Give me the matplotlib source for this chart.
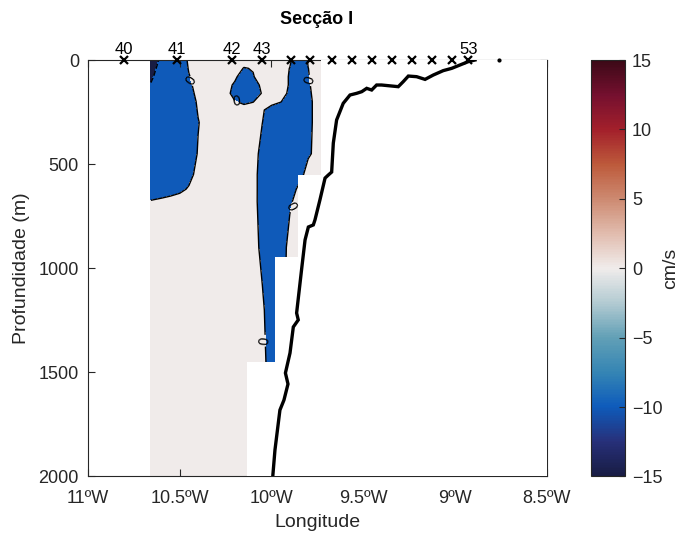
import numpy as np
import matplotlib
matplotlib.use("Agg")
import matplotlib.pyplot as plt
from matplotlib.colors import LinearSegmentedColormap, Normalize
from matplotlib.cm import ScalarMappable

plt.rcParams['font.family'] = ['Liberation Sans', 'DejaVu Sans']

# === Section data ===
TITLE = "Secção I"

# stations along the section (lon) and the ones that get a number
station_lon = [-10.804, -10.513, -10.217, -10.053, -9.895, -9.790, -9.672,
               -9.560, -9.454, -9.345, -9.233, -9.124, -9.018, -8.928]
station_num = list(range(40, 54))
labelled = [40, 41, 42, 43, 53]
extra_point_lon = -8.759

# velocity grid (cm/s): rows = depth, cols = lon
grid_lon = [-10.657, -10.60, -10.55, -10.50, -10.45, -10.40, -10.35, -10.30,
            -10.25, -10.20, -10.15, -10.10, -10.05, -10.00, -9.95, -9.90,
            -9.85, -9.80, -9.730]
grid_depth = [0, 40, 80, 120, 160, 200, 240, 300, 450, 550, 620, 680,
              900, 1200, 1500, 2000]
velocity = [
    [-13, -9, -6, -7.2, 1.8, 4, 4, 4, 4, 4, 4, 4, 4, 4, 4, 1.6, -8, 0.8, 4],
    [-12, -8, -6, -8.2, 0.8, 4, 4, 4, 4, 4, -0.5, 0.5, 4, 4, 4, -0.25, -8, -0.1, 4],
    [-11, -7, -6, -8, -0.6, 4, 4, 4, 4, 2.1, -6, -0.55, 4, 4, 4, -0.8, -8, -0.4, 4],
    [-9.6, -6, -6, -7, -2.2, 4, 4, 4, 4, -1.6, -7, -6, 3, 4, 4, -0.8, -8, -0.8, 4],
    [-7, -6, -6, -7, -5.3, 4, 4, 4, 4, -4, -7, -7, 0.9, 4, 4, -2, -8, -1.3, 4],
    [-6, -6, -6, -7, -7, 1.9, 4, 4, 4, 0.6, -2, -0.3, 4, 4, 0.4, -5, -8, -1.9, 4],
    [-5, -6, -6, -7, -7, 0.8, 4, 4, 4, 4, 4, 4, 1.4, -5, -6, -7, -8, -1.9, 4],
    [-5, -6, -6, -7, -7, -0.55, 4, 4, 4, 4, 4, 4, 0.1, -5, -6, -7, -8, -1.9, 4],
    [-5, -6, -6, -7, -7, 0.8, 4, 4, 4, 4, 4, 4, -3.1, -6, -6, -7, -8, -1.3, 4],
    [-5, -6, -6, -6, -4, 4, 4, 4, 4, 4, 4, 4, -4.9, -6, -6, -6, -4, 4, 4],
    [-5, -5, -5, -3, 1.3, 4, 4, 4, 4, 4, 4, 4, -4.9, -6, -6, -6, 2.5, 4, 4],
    [0.6, 1.9, 4, 6, 4, 4, 4, 4, 4, 4, 4, 4, -5, -6, -5, -1.5, 4, 4, 4],
    [4, 4, 4, 4, 4, 4, 4, 4, 4, 4, 4, 4, -2.5, -6, -6.5, 4, 4, 4, 4],
    [4, 4, 4, 4, 4, 4, 4, 4, 4, 4, 4, 4, 1.7, -6, -4, 4, 4, 4, 4],
    [4, 4, 4, 4, 4, 4, 4, 4, 4, 4, 4, 4, 3, -4, -4, 4, 4, 4, 4],
    [4, 4, 4, 4, 4, 4, 4, 4, 4, 4, 4, 4, 4, 4, 4, 4, 4, 4, 4],
]
levels = [-20, -10, 0, 10, 20]

# eastern limit of valid data per depth (step mask)
mask_depth = [0, 550, 550, 945, 945, 1450, 1450, 2000]
mask_lon = [-9.730, -9.730, -9.856, -9.856, -9.981, -9.981, -10.134, -10.134]

# bottom profile
bathy_lon = [-9.993, -9.981, -9.954, -9.932, -9.910, -9.924, -9.899, -9.881,
             -9.854, -9.863, -9.835, -9.817, -9.799, -9.772, -9.763, -9.736,
             -9.708, -9.690, -9.672, -9.663, -9.645, -9.627, -9.609, -9.572,
             -9.536, -9.508, -9.481, -9.454, -9.427, -9.400, -9.309, -9.282,
             -9.254, -9.209, -9.163, -9.118, -9.064, -9.018, -8.973, -8.928,
             -8.891]
bathy_depth = [2000, 1873, 1681, 1633, 1556, 1503, 1407, 1282, 1248, 1215,
               999, 864, 802, 792, 768, 672, 567, 552, 538, 399, 288, 248,
               208, 168, 160, 152, 136, 144, 120, 120, 128, 104, 77, 80, 93,
               72, 51, 40, 24, 8, 0]

# "0" contour labels
label_pos = [(-10.444, 110), (-10.188, 192), (-9.807, 110), (-9.888, 711),
             (-10.019, 1345)]

xticks = [-11, -10.5, -10, -9.5, -9, -8.5]
xticklabels = ["11ºW", "10.5ºW", "10ºW", "9.5ºW", "9ºW", "8.5ºW"]
yticks = [0, 500, 1000, 1500, 2000]
cbar_ticks = [-15, -10, -5, 0, 5, 10, 15]

# balance-like colormap
cmap_pos = [0.0, 0.083, 0.1667, 0.25, 0.3333, 0.4167, 0.5, 0.5833, 0.6667,
            0.75, 0.8333, 0.9167, 1.0]
cmap_col = ["#181c43", "#27307a", "#0e5bbb", "#3585b4", "#62a0b6", "#b3cbd2",
            "#f0eceb", "#e1bcae", "#cd8a71", "#bd5a3b", "#a3202b", "#75102f",
            "#3c0917"]

# === Figure ===
cmap = LinearSegmentedColormap.from_list("balance", list(zip(cmap_pos, cmap_col)))
norm = Normalize(vmin=-15, vmax=15)
fill_cols = [cmap(norm(max(l, -15))) for l in levels[:-1]]

fig = plt.figure(figsize=(6.81, 5.34), dpi=100)
ax = fig.add_axes([0.1292, 0.1077, 0.6736, 0.7799])
cax = fig.add_axes([0.8674, 0.1077, 0.0504, 0.7799])

X, Y = np.meshgrid(grid_lon, grid_depth)
V = np.array(velocity)
ax.contourf(X, Y, V, levels=levels, colors=fill_cols, zorder=1)
ax.contour(X, Y, V, levels=[-10], colors="k", linewidths=1.0, zorder=2)
cs0 = ax.contour(X, Y, V, levels=[0], colors="k", linewidths=1.0, zorder=2)
ax.clabel(cs0, inline=True, fmt={0: "0"}, fontsize=10,
          manual=label_pos, inline_spacing=2)

# white area below the last valid data
ax.fill_betweenx(mask_depth, mask_lon, -8.5, color="white", lw=0, zorder=3)

ax.plot(bathy_lon, bathy_depth, color="k", lw=2.4, zorder=4,
        solid_joinstyle="miter")

ax.plot(station_lon, [0] * len(station_lon), "x", color="k", ms=6, mew=1.6,
        zorder=6, clip_on=False)
ax.plot([extra_point_lon], [0], ".", color="k", ms=4, zorder=6, clip_on=False)
for lon, n in zip(station_lon, station_num):
    if n in labelled:
        ax.annotate(str(n), (lon, 0), xytext=(0, 2), textcoords="offset points",
                    ha="center", va="bottom", fontsize=12, color="k",
                    annotation_clip=False)

ax.set_xlim(-11, -8.5)
ax.set_ylim(2000, 0)
ax.set_xticks(xticks)
ax.set_xticklabels(xticklabels)
ax.set_yticks(yticks)
ax.tick_params(direction="in", top=True, right=True, length=5, width=0.8,
               color="#262626", labelcolor="#262626", labelsize=13)
ax.tick_params(axis="x", pad=9.5)
ax.tick_params(axis="y", pad=6.5)
for s in ax.spines.values():
    s.set_color("#262626")
    s.set_linewidth(0.8)
ax.set_xlabel("Longitude", fontsize=14, color="#262626", labelpad=5)
ax.set_ylabel("Profundidade (m)", fontsize=14, color="#262626", labelpad=6)

fig.text(317 / 681, 1 - 20 / 534, TITLE, ha="center", va="center",
         fontsize=13, fontweight="bold", color="k")

sm = ScalarMappable(norm=norm, cmap=cmap)
cb = fig.colorbar(sm, cax=cax, ticks=cbar_ticks)
cb.outline.set_edgecolor("#262626")
cb.outline.set_linewidth(0.8)
cax.tick_params(direction="in", length=4, width=0.8, color="#262626",
                labelcolor="#262626", labelsize=13, pad=5)
fig.text(671 / 681, 1 - 268 / 534, "cm/s", rotation=90, ha="center",
         va="center", fontsize=14, color="#262626")

fig.savefig("out.png", dpi=100)
